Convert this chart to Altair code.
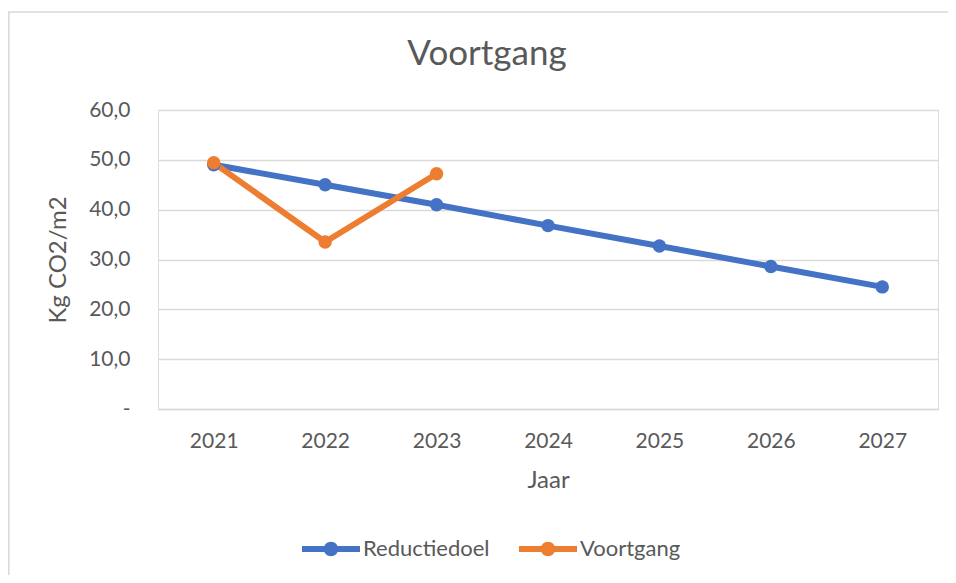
import altair as alt
import pandas as pd

# ---- data ----
years = ["2021", "2022", "2023", "2024", "2025", "2026", "2027"]
reductiedoel = [49.0, 45.0, 41.0, 36.8, 32.7, 28.6, 24.5]
voortgang_years = ["2021", "2022", "2023"]
voortgang = [49.4, 33.5, 47.2]
series_names = ["Reductiedoel", "Voortgang"]
series_colors = ["#4472C4", "#ED7D31"]
y_ticks = [0, 10, 20, 30, 40, 50, 60]

rows = [{"Jaar": y, "Serie": "Reductiedoel", "Waarde": v} for y, v in zip(years, reductiedoel)]
rows += [{"Jaar": y, "Serie": "Voortgang", "Waarde": v} for y, v in zip(voortgang_years, voortgang)]
df = pd.DataFrame(rows)
df["order"] = df["Serie"].map({"Reductiedoel": 0, "Voortgang": 1})

FONT = "Lato"
TXT = "#595959"
GRID = "#d9d9d9"

W, H = 780, 299

legend_path = ("M-1,-0.1H1V0.1H-1Z "
               "M-0.25,0A0.25,0.25,0,1,1,0.25,0A0.25,0.25,0,1,1,-0.25,0Z")

frame = alt.Chart(pd.DataFrame({"f": [0]})).mark_rect(
    fill=None, stroke=GRID, strokeWidth=1.5
).encode(
    x=alt.value(-149.2), x2=alt.value(900), y=alt.value(-98), y2=alt.value(600)
)

lines = alt.Chart(df).mark_line(
    strokeWidth=6, strokeJoin="round", strokeCap="round",
    point=alt.OverlayMarkDef(size=180, filled=True, opacity=1),
).encode(
    x=alt.X("Jaar:O", sort=years,
            scale=alt.Scale(type="point", padding=0.5, domain=years),
            axis=alt.Axis(labelAngle=0, domain=True, domainColor=GRID, domainWidth=1.5,
                          ticks=False, grid=False, labelPadding=21,
                          labelFont=FONT, labelFontSize=21, labelColor=TXT,
                          title="Jaar", titleFont=FONT, titleFontSize=24,
                          titleFontWeight="normal", titleColor=TXT,
                          titleX=W / 2, titleY=71, titleBaseline="middle",
                          titleAlign="center")),
    y=alt.Y("Waarde:Q",
            scale=alt.Scale(domain=[0, 60], nice=False),
            axis=alt.Axis(values=y_ticks,
                          labelExpr="datum.value == 0 ? '-\u00a0\u00a0\u00a0' : replace(format(datum.value, '.1f'), '.', ',')",
                          grid=True, gridColor=GRID, gridWidth=1.5,
                          domain=False, ticks=False, labelPadding=28,
                          labelFont=FONT, labelFontSize=21, labelColor=TXT,
                          title="Kg CO2/m2", titleFont=FONT, titleFontSize=24,
                          titleFontWeight="normal", titleColor=TXT,
                          titleX=-100, titleY=H / 2, titleAngle=-90,
                          titleBaseline="middle", titleAlign="center")),
    color=alt.Color("Serie:N",
                    scale=alt.Scale(domain=series_names, range=series_colors),
                    legend=alt.Legend(
                        title=None, orient="none", legendX=144, legendY=410,
                        direction="horizontal",
                        symbolType=legend_path, symbolSize=3364,
                        symbolStrokeWidth=0, symbolOpacity=1,
                        labelOffset=3, columnPadding=29,
                        labelFont=FONT, labelFontSize=22, labelColor=TXT,
                    )),
    order="order:Q",
)

chart = alt.layer(frame, lines).properties(
    width=W, height=H,
    autosize=alt.AutoSizeParams(type="none"),
    padding={"left": 150, "top": 102, "right": 10, "bottom": 166},
    title=alt.TitleParams("Voortgang", anchor="start", frame="group", align="center",
                          dx=329, offset=-89, baseline="alphabetic",
                          font=FONT, fontSize=35, fontWeight="normal", color=TXT),
).configure_view(stroke=None).configure(background="white")

chart.save("out.html", embed_options={"renderer": "svg", "actions": False})
